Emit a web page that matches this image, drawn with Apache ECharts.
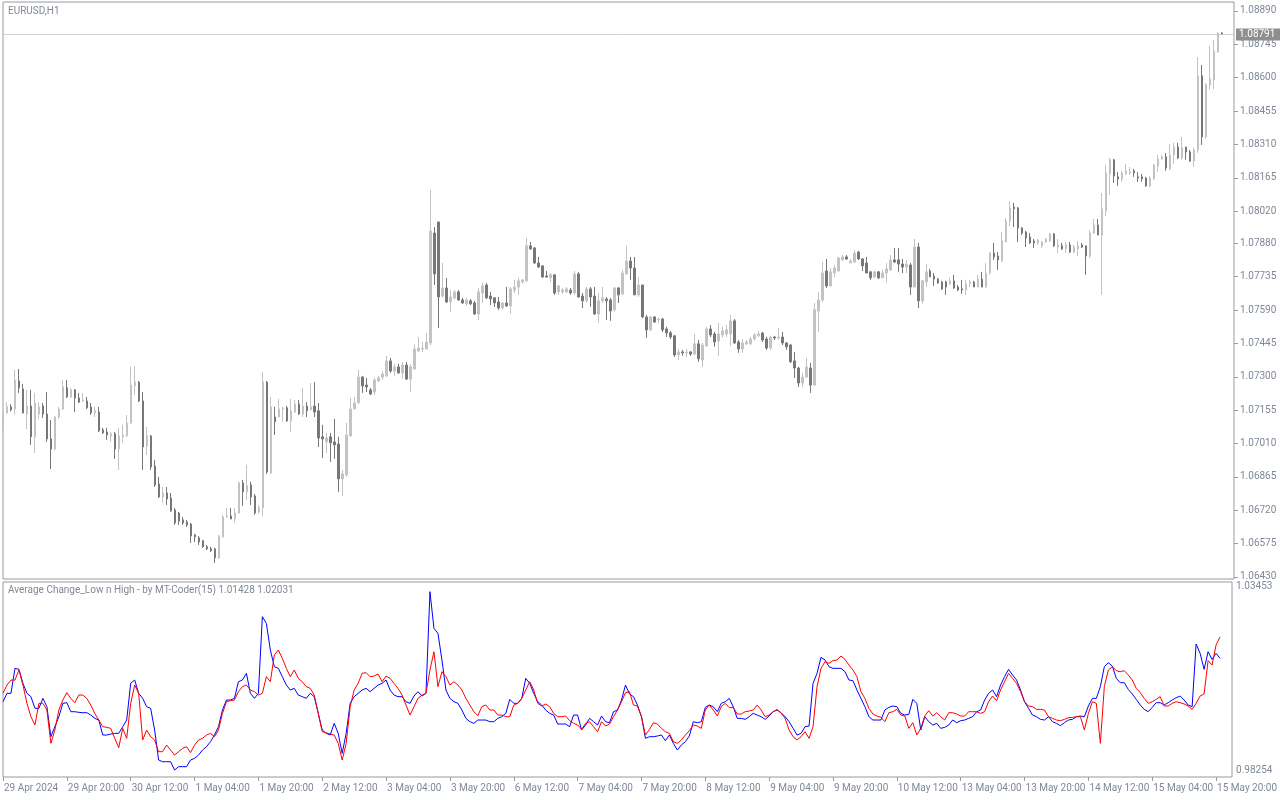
<!DOCTYPE html>
<html>
<head>
<meta charset="utf-8">
<script src="https://cdn.jsdelivr.net/npm/echarts@6/dist/echarts.min.js"></script>
<style>
html,body{margin:0;padding:0;background:#fff;}
#chart{width:1280px;height:800px;}
</style>
</head>
<body>
<div id="chart"></div>
<script>
// ---- EURUSD H1 candles (29 Apr 2024 04:00 .. 15 May 2024 21:00) ----
const opens = [1.07069,1.07143,1.07169,1.07160,1.07282,1.07247,1.07138,1.07173,1.07039,1.07138,1.07173,1.07138,1.07030,1.06986,1.07125,1.07160,1.07252,1.07212,1.07243,1.07208,1.07195,1.07195,1.07169,1.07143,1.07147,1.07069,1.07060,1.07043,1.07052,1.06986,1.07039,1.07043,1.07099,1.07260,1.07277,1.07195,1.06999,1.07043,1.06912,1.06834,1.06778,1.06795,1.06773,1.06721,1.06708,1.06678,1.06669,1.06660,1.06613,1.06600,1.06587,1.06561,1.06552,1.06552,1.06513,1.06604,1.06691,1.06695,1.06682,1.06708,1.06839,1.06800,1.06830,1.06782,1.06713,1.06730,1.07277,1.06882,1.07125,1.07125,1.07160,1.07165,1.07108,1.07147,1.07182,1.07138,1.07173,1.07156,1.07173,1.07152,1.07039,1.07017,1.07039,1.07017,1.07008,1.06856,1.06873,1.07043,1.07160,1.07186,1.07299,1.07264,1.07243,1.07234,1.07282,1.07299,1.07304,1.07369,1.07325,1.07343,1.07317,1.07351,1.07290,1.07334,1.07412,1.07421,1.07421,1.07447,1.07925,1.07973,1.07651,1.07686,1.07625,1.07643,1.07669,1.07634,1.07617,1.07630,1.07621,1.07573,1.07664,1.07699,1.07651,1.07643,1.07625,1.07599,1.07621,1.07608,1.07677,1.07690,1.07712,1.07717,1.07869,1.07860,1.07795,1.07782,1.07738,1.07730,1.07743,1.07669,1.07669,1.07669,1.07677,1.07664,1.07747,1.07651,1.07630,1.07682,1.07651,1.07573,1.07630,1.07638,1.07634,1.07591,1.07686,1.07660,1.07747,1.07803,1.07773,1.07656,1.07699,1.07560,1.07504,1.07560,1.07547,1.07551,1.07508,1.07491,1.07478,1.07395,1.07408,1.07404,1.07408,1.07399,1.07443,1.07373,1.07434,1.07508,1.07486,1.07456,1.07482,1.07486,1.07486,1.07543,1.07451,1.07421,1.07443,1.07443,1.07464,1.07478,1.07490,1.07464,1.07425,1.07473,1.07469,1.07473,1.07447,1.07438,1.07369,1.07338,1.07273,1.07299,1.07338,1.07264,1.07586,1.07634,1.07760,1.07695,1.07751,1.07760,1.07808,1.07821,1.07795,1.07799,1.07842,1.07812,1.07795,1.07756,1.07734,1.07756,1.07730,1.07751,1.07764,1.07808,1.07808,1.07790,1.07777,1.07786,1.07690,1.07864,1.07630,1.07712,1.07760,1.07738,1.07725,1.07712,1.07712,1.07704,1.07717,1.07690,1.07682,1.07677,1.07704,1.07712,1.07690,1.07725,1.07690,1.07751,1.07838,1.07825,1.07803,1.07886,1.07977,1.08038,1.08034,1.07947,1.07929,1.07908,1.07890,1.07882,1.07869,1.07886,1.07890,1.07921,1.07864,1.07869,1.07856,1.07873,1.07842,1.07856,1.07873,1.07869,1.07825,1.07925,1.07960,1.07916,1.08021,1.08182,1.08243,1.08169,1.08160,1.08182,1.08186,1.08195,1.08169,1.08169,1.08164,1.08130,1.08160,1.08216,1.08247,1.08256,1.08203,1.08264,1.08299,1.08251,1.08299,1.08277,1.08238,1.08286,1.08608,1.08343,1.08568,1.08590,1.08712,1.08794];
const closes = [1.07134,1.07169,1.07156,1.07286,1.07252,1.07143,1.07173,1.07039,1.07186,1.07169,1.07138,1.07030,1.06986,1.07125,1.07160,1.07256,1.07212,1.07243,1.07208,1.07190,1.07199,1.07165,1.07143,1.07152,1.07065,1.07056,1.07047,1.07052,1.06986,1.07043,1.07047,1.07099,1.07264,1.07277,1.07195,1.06995,1.07043,1.06908,1.06830,1.06778,1.06795,1.06769,1.06717,1.06665,1.06673,1.06665,1.06656,1.06608,1.06604,1.06582,1.06561,1.06552,1.06543,1.06513,1.06608,1.06691,1.06695,1.06682,1.06708,1.06839,1.06800,1.06826,1.06778,1.06708,1.06730,1.07277,1.06886,1.07169,1.07104,1.07160,1.07165,1.07108,1.07152,1.07182,1.07138,1.07173,1.07152,1.07169,1.07147,1.07034,1.07030,1.07034,1.07013,1.07004,1.06856,1.06878,1.07047,1.07160,1.07186,1.07299,1.07260,1.07256,1.07225,1.07286,1.07295,1.07312,1.07369,1.07325,1.07343,1.07317,1.07351,1.07290,1.07343,1.07421,1.07425,1.07425,1.07451,1.07934,1.07747,1.07647,1.07686,1.07625,1.07647,1.07669,1.07634,1.07621,1.07634,1.07617,1.07573,1.07669,1.07695,1.07643,1.07638,1.07621,1.07599,1.07621,1.07608,1.07682,1.07690,1.07717,1.07721,1.07869,1.07856,1.07795,1.07777,1.07734,1.07734,1.07743,1.07664,1.07695,1.07677,1.07682,1.07664,1.07747,1.07647,1.07630,1.07682,1.07647,1.07573,1.07630,1.07643,1.07630,1.07586,1.07686,1.07656,1.07751,1.07803,1.07773,1.07656,1.07699,1.07560,1.07504,1.07560,1.07538,1.07551,1.07504,1.07491,1.07473,1.07395,1.07408,1.07404,1.07408,1.07399,1.07443,1.07378,1.07438,1.07508,1.07482,1.07451,1.07486,1.07499,1.07504,1.07543,1.07447,1.07421,1.07447,1.07451,1.07464,1.07482,1.07486,1.07460,1.07425,1.07473,1.07469,1.07473,1.07447,1.07430,1.07365,1.07338,1.07273,1.07299,1.07343,1.07264,1.07591,1.07634,1.07751,1.07695,1.07756,1.07773,1.07816,1.07821,1.07812,1.07803,1.07838,1.07812,1.07782,1.07751,1.07730,1.07756,1.07730,1.07751,1.07769,1.07808,1.07799,1.07790,1.07777,1.07790,1.07690,1.07864,1.07630,1.07717,1.07756,1.07734,1.07725,1.07708,1.07682,1.07690,1.07717,1.07686,1.07677,1.07677,1.07704,1.07712,1.07690,1.07725,1.07690,1.07751,1.07838,1.07821,1.07808,1.07890,1.07977,1.08034,1.08030,1.07947,1.07925,1.07903,1.07882,1.07882,1.07895,1.07886,1.07899,1.07921,1.07869,1.07873,1.07856,1.07873,1.07842,1.07864,1.07869,1.07864,1.07825,1.07925,1.07960,1.07916,1.08030,1.08186,1.08243,1.08173,1.08160,1.08186,1.08195,1.08190,1.08186,1.08164,1.08160,1.08130,1.08164,1.08221,1.08247,1.08256,1.08208,1.08264,1.08299,1.08251,1.08295,1.08277,1.08238,1.08286,1.08608,1.08343,1.08568,1.08595,1.08716,1.08794,1.08791];
const lows = [1.07065,1.07140,1.07150,1.07134,1.07230,1.07140,1.07073,1.07004,1.06969,1.07117,1.07121,1.07017,1.06899,1.06982,1.07117,1.07156,1.07208,1.07208,1.07147,1.07186,1.07190,1.07160,1.07134,1.07125,1.07060,1.07052,1.07026,1.07017,1.06943,1.06895,1.07013,1.07039,1.07095,1.07221,1.07190,1.06895,1.06960,1.06895,1.06821,1.06773,1.06752,1.06743,1.06713,1.06656,1.06656,1.06656,1.06647,1.06578,1.06582,1.06569,1.06556,1.06547,1.06539,1.06491,1.06508,1.06600,1.06687,1.06682,1.06665,1.06704,1.06739,1.06765,1.06743,1.06700,1.06704,1.06695,1.06878,1.06878,1.07047,1.07125,1.07104,1.07104,1.07060,1.07143,1.07134,1.07125,1.07125,1.07156,1.07125,1.06995,1.06947,1.06969,1.06930,1.06943,1.06800,1.06782,1.06865,1.07039,1.07160,1.07186,1.07230,1.07234,1.07221,1.07221,1.07277,1.07286,1.07299,1.07317,1.07304,1.07312,1.07291,1.07286,1.07234,1.07330,1.07408,1.07408,1.07417,1.07438,1.07699,1.07512,1.07643,1.07621,1.07582,1.07634,1.07630,1.07617,1.07608,1.07612,1.07569,1.07547,1.07621,1.07638,1.07612,1.07604,1.07591,1.07591,1.07604,1.07573,1.07664,1.07656,1.07704,1.07712,1.07851,1.07790,1.07773,1.07730,1.07730,1.07712,1.07656,1.07656,1.07660,1.07664,1.07656,1.07656,1.07643,1.07599,1.07621,1.07604,1.07569,1.07534,1.07621,1.07547,1.07543,1.07582,1.07621,1.07656,1.07743,1.07721,1.07656,1.07647,1.07556,1.07469,1.07499,1.07534,1.07534,1.07495,1.07473,1.07464,1.07386,1.07373,1.07391,1.07386,1.07391,1.07395,1.07365,1.07343,1.07430,1.07473,1.07430,1.07391,1.07469,1.07473,1.07434,1.07443,1.07404,1.07404,1.07438,1.07438,1.07456,1.07473,1.07451,1.07417,1.07417,1.07460,1.07460,1.07438,1.07417,1.07360,1.07295,1.07256,1.07256,1.07295,1.07230,1.07260,1.07495,1.07625,1.07686,1.07690,1.07734,1.07756,1.07803,1.07808,1.07795,1.07795,1.07808,1.07760,1.07751,1.07721,1.07730,1.07725,1.07730,1.07708,1.07760,1.07795,1.07756,1.07751,1.07751,1.07656,1.07690,1.07599,1.07617,1.07690,1.07734,1.07695,1.07704,1.07677,1.07656,1.07699,1.07682,1.07673,1.07660,1.07656,1.07690,1.07690,1.07690,1.07690,1.07686,1.07743,1.07808,1.07764,1.07799,1.07886,1.07955,1.07951,1.07886,1.07916,1.07864,1.07877,1.07860,1.07873,1.07860,1.07882,1.07886,1.07864,1.07838,1.07851,1.07838,1.07838,1.07838,1.07825,1.07860,1.07743,1.07816,1.07921,1.07916,1.07656,1.07999,1.08090,1.08143,1.08130,1.08147,1.08177,1.08177,1.08169,1.08147,1.08147,1.08125,1.08125,1.08156,1.08190,1.08243,1.08195,1.08199,1.08225,1.08247,1.08243,1.08243,1.08234,1.08212,1.08273,1.08308,1.08334,1.08547,1.08551,1.08708,1.08788];
const highs = [1.07152,1.07190,1.07180,1.07330,1.07334,1.07269,1.07243,1.07243,1.07230,1.07190,1.07186,1.07234,1.07112,1.07130,1.07169,1.07286,1.07286,1.07252,1.07247,1.07230,1.07230,1.07212,1.07186,1.07169,1.07169,1.07078,1.07078,1.07060,1.07060,1.07078,1.07091,1.07134,1.07343,1.07347,1.07282,1.07234,1.07082,1.07047,1.06939,1.06865,1.06821,1.06821,1.06795,1.06730,1.06713,1.06691,1.06678,1.06665,1.06617,1.06608,1.06591,1.06569,1.06561,1.06556,1.06613,1.06700,1.06730,1.06730,1.06730,1.06843,1.06852,1.06917,1.06843,1.06791,1.06743,1.07321,1.07282,1.07212,1.07169,1.07204,1.07169,1.07173,1.07204,1.07199,1.07199,1.07252,1.07190,1.07273,1.07277,1.07186,1.07091,1.07056,1.07056,1.07117,1.07039,1.06895,1.07099,1.07208,1.07212,1.07330,1.07304,1.07295,1.07252,1.07295,1.07304,1.07325,1.07391,1.07382,1.07356,1.07356,1.07364,1.07364,1.07356,1.07439,1.07473,1.07451,1.07490,1.08112,1.07951,1.07973,1.07795,1.07730,1.07677,1.07677,1.07677,1.07643,1.07643,1.07638,1.07630,1.07686,1.07708,1.07708,1.07669,1.07647,1.07647,1.07625,1.07690,1.07690,1.07721,1.07730,1.07725,1.07903,1.07886,1.07864,1.07821,1.07786,1.07760,1.07751,1.07743,1.07699,1.07686,1.07690,1.07686,1.07760,1.07756,1.07664,1.07690,1.07690,1.07690,1.07664,1.07690,1.07647,1.07643,1.07690,1.07690,1.07764,1.07869,1.07821,1.07821,1.07734,1.07699,1.07569,1.07564,1.07564,1.07556,1.07556,1.07517,1.07499,1.07482,1.07421,1.07417,1.07421,1.07412,1.07486,1.07460,1.07447,1.07517,1.07525,1.07495,1.07534,1.07517,1.07525,1.07569,1.07551,1.07460,1.07464,1.07460,1.07473,1.07490,1.07499,1.07495,1.07473,1.07478,1.07478,1.07512,1.07495,1.07451,1.07443,1.07408,1.07343,1.07317,1.07382,1.07360,1.07621,1.07669,1.07799,1.07812,1.07773,1.07786,1.07821,1.07829,1.07829,1.07812,1.07851,1.07847,1.07816,1.07821,1.07760,1.07760,1.07760,1.07764,1.07795,1.07829,1.07860,1.07860,1.07812,1.07808,1.07795,1.07899,1.07882,1.07721,1.07790,1.07769,1.07751,1.07730,1.07717,1.07717,1.07730,1.07743,1.07699,1.07721,1.07721,1.07721,1.07717,1.07743,1.07756,1.07795,1.07842,1.07882,1.07842,1.07929,1.07990,1.08064,1.08056,1.08038,1.07951,1.07934,1.07925,1.07899,1.07899,1.07890,1.07903,1.07925,1.07925,1.07899,1.07882,1.07886,1.07886,1.07873,1.07890,1.07882,1.07869,1.07938,1.07986,1.07986,1.08099,1.08221,1.08251,1.08247,1.08190,1.08195,1.08225,1.08212,1.08203,1.08190,1.08182,1.08169,1.08173,1.08225,1.08264,1.08264,1.08273,1.08312,1.08317,1.08317,1.08343,1.08299,1.08286,1.08295,1.08690,1.08655,1.08577,1.08738,1.08764,1.08798,1.08798];

// ---- Indicator: Average Change_Low n High (15) ----
const changeLow = [1.00202,1.00438,1.00438,1.01144,1.01116,1.00720,1.00438,1.00343,1.00014,1.00014,1.00296,1.00061,0.99213,0.99496,0.99778,1.00155,1.00174,0.99919,0.99919,0.99901,0.99891,0.99891,0.99825,0.99731,0.99684,0.99260,0.99260,0.99288,0.99307,0.99307,0.99496,0.99684,1.00720,1.00814,1.00438,1.00296,1.00061,1.00014,0.99401,0.98554,0.98506,0.98506,0.98506,0.98271,0.98365,0.98365,0.98365,0.98554,0.98601,0.98695,0.98836,0.98930,0.99072,0.99260,0.99496,0.99967,1.00249,1.00249,1.00296,1.00767,1.00814,1.01003,1.00438,1.00296,1.00438,1.02604,1.02416,1.01662,1.01191,1.01144,1.00909,1.00673,1.00532,1.00579,1.00390,1.00343,1.00296,1.00438,1.00343,0.99872,0.99401,0.99307,0.99260,0.99590,0.99307,0.98742,0.99307,1.00155,1.00343,1.00438,1.00532,1.00579,1.00485,1.00579,1.00673,1.00720,1.00814,1.00532,1.00390,1.00343,1.00343,1.00202,1.00155,1.00362,1.00485,1.00362,1.00438,1.03311,1.02274,1.02133,1.01380,1.00532,1.00296,1.00202,1.00155,0.99967,0.99731,0.99637,0.99590,0.99684,0.99684,0.99684,0.99637,0.99637,0.99731,0.99778,0.99872,1.00268,1.00155,1.00155,1.00296,1.00861,1.00720,1.00438,1.00202,1.00108,0.99967,0.99872,0.99825,0.99571,0.99571,0.99571,0.99496,0.99825,0.99825,0.99401,0.99543,0.99731,0.99637,0.99543,0.99797,0.99637,0.99609,0.99919,0.99967,1.00249,1.00673,1.00419,1.00343,1.00108,0.99778,0.99166,0.99213,0.99213,0.99232,0.99260,0.99100,0.99260,0.99025,0.98836,0.98977,0.99072,0.99232,0.99637,0.99609,0.99637,1.00042,1.00108,1.00061,0.99919,1.00155,1.00202,1.00296,1.00061,0.99731,0.99731,0.99703,0.99778,0.99872,0.99825,0.99778,0.99703,0.99797,0.99919,0.99967,0.99891,0.99778,0.99637,0.99448,0.99260,0.99307,0.99496,0.99514,1.00720,1.01003,1.01455,1.01380,1.01191,1.01144,1.01144,1.01144,1.01050,1.00814,1.00796,1.00532,1.00296,1.00061,0.99778,0.99684,0.99684,0.99684,0.99967,1.00042,1.00080,1.00061,0.99872,0.99825,0.99844,1.00268,1.00155,0.99401,0.99778,0.99637,0.99543,0.99590,0.99448,0.99477,0.99543,0.99684,0.99609,0.99665,0.99684,0.99731,0.99778,0.99919,0.99967,1.00249,1.00438,1.00532,1.00343,1.00673,1.00909,1.01116,1.00956,1.00814,1.00532,1.00202,1.00014,0.99825,0.99778,0.99703,0.99684,0.99778,0.99637,0.99590,0.99524,0.99609,0.99684,0.99703,0.99778,0.99797,0.99778,1.00080,1.00296,1.00296,1.00626,1.01191,1.01304,1.01210,1.00861,1.00739,1.00739,1.00551,1.00419,1.00268,1.00108,0.99985,0.99919,1.00042,1.00174,1.00174,1.00108,1.00174,1.00249,1.00315,1.00362,1.00249,1.00108,1.00061,1.01832,1.01568,1.01116,1.01615,1.01398,1.01568,1.01428];
const changeHigh = [1.00438,1.00673,1.00814,1.00814,1.01097,1.00673,1.00155,0.99778,0.99543,1.00155,1.00155,0.99967,0.99025,0.99401,0.99967,1.00249,1.00456,1.00296,1.00174,1.00390,1.00390,1.00296,1.00108,0.99872,0.99684,0.99496,0.99477,0.99448,0.99166,0.98902,0.99448,0.99166,1.00155,1.00673,1.00438,0.99119,0.99401,0.99213,0.99119,0.98789,0.98789,0.98977,0.98836,0.98695,0.98789,0.98883,0.98930,0.98761,0.98977,0.99119,0.99166,0.99260,0.99307,0.99213,0.99401,0.99872,1.00202,1.00230,1.00249,1.00485,1.00626,1.00673,1.00532,1.00485,1.00390,1.00438,1.00909,1.00767,1.01521,1.01662,1.01427,1.01144,1.00909,1.01097,1.00861,1.00767,1.00626,1.00579,1.00390,0.99872,0.99354,0.99326,0.99288,0.99260,0.99025,0.98554,0.99025,1.00061,1.00532,1.00720,1.01003,1.01022,1.00909,1.00927,1.00984,1.00767,1.00927,1.00861,1.00720,1.00579,1.00390,1.00108,0.99825,1.00061,1.00296,1.00390,1.00438,1.01097,1.01615,1.00626,1.01050,1.00909,1.00673,1.00767,1.00673,1.00532,1.00296,1.00108,0.99919,0.99806,1.00061,1.00108,0.99967,0.99967,0.99825,0.99825,0.99778,0.99778,1.00108,1.00155,1.00296,1.00532,1.00767,1.00532,1.00155,1.00080,1.00136,1.00061,0.99872,0.99778,0.99778,0.99797,0.99665,0.99590,0.99543,0.99420,0.99590,0.99637,0.99496,0.99354,0.99637,0.99514,0.99571,0.99778,0.99967,1.00202,1.00456,1.00485,1.00108,1.00080,0.99778,0.99260,0.99420,0.99609,0.99571,0.99448,0.99354,0.99307,0.99072,0.99025,0.99119,0.99260,0.99383,0.99543,0.99514,0.99448,0.99967,1.00108,0.99967,0.99797,1.00061,1.00155,1.00033,1.00042,0.99854,0.99854,0.99919,0.99938,0.99967,1.00108,0.99967,0.99778,0.99825,0.99919,0.99985,0.99872,0.99731,0.99401,0.99213,0.99119,0.99213,0.99354,0.99166,0.99496,1.00626,1.01144,1.01332,1.01285,1.01361,1.01380,1.01493,1.01398,1.01238,1.01097,1.00909,1.00485,1.00296,1.00014,0.99854,0.99797,0.99759,0.99637,0.99891,0.99919,0.99985,0.99825,0.99797,0.99448,0.99609,0.99260,0.99448,0.99797,0.99948,0.99797,0.99891,0.99778,0.99684,0.99891,0.99891,0.99854,0.99797,0.99797,0.99919,0.99919,0.99919,0.99872,0.99919,1.00202,1.00362,1.00230,1.00532,1.00767,1.01003,1.00861,1.00720,1.00485,1.00202,1.00080,1.00061,0.99985,0.99985,0.99967,0.99778,0.99731,0.99684,0.99665,0.99703,0.99750,0.99759,0.99778,0.99778,0.99401,0.99872,1.00202,1.00155,0.99025,1.00626,1.01097,1.01191,1.01078,1.01050,1.01078,1.00956,1.00814,1.00579,1.00456,1.00296,1.00155,1.00202,1.00268,1.00343,1.00080,1.00080,1.00155,1.00202,1.00174,1.00136,1.00080,0.99985,1.00155,1.00362,1.00419,1.01361,1.01238,1.01804,1.02031];

// ---- Tick labels ----
const priceTicks = [1.08890,1.08745,1.08600,1.08455,1.08310,1.08165,1.08020,1.07880,1.07735,1.07590,1.07445,1.07300,1.07155,1.07010,1.06865,1.06720,1.06575,1.06430];
const indicatorTicks = [1.03453,0.98254];
const dateTicks = ['29 Apr 2024','29 Apr 20:00','30 Apr 12:00','1 May 04:00','1 May 20:00','2 May 12:00','3 May 04:00','3 May 20:00','6 May 12:00','7 May 04:00','7 May 20:00','8 May 12:00','9 May 04:00','9 May 20:00','10 May 12:00','13 May 04:00','13 May 20:00','14 May 12:00','15 May 04:00','15 May 20:00'];
const dateTickStep = 16;

const symbolTitle = 'EURUSD,H1';
const indicatorName = 'Average Change_Low n High - by MT-Coder(15)';

// ---- build ----
const SLOTS = opens.length + 3; // right-side shift area
const cats = [];
for (let i = 0; i < SLOTS; i++) cats.push(String(i));
const candleData = opens.map((o, i) => [o, closes[i], lows[i], highs[i]]);
const lastClose = closes[closes.length - 1];

const labelColor = '#7f8898';
const frameColor = '#9a9a9a';
const FONT = 'Roboto';
const GRID_LEFT = 3, GRID_RIGHT = 1234;

const isDateTick = (idx) => idx % dateTickStep === 0 && idx / dateTickStep < dateTicks.length;

const chart = echarts.init(document.getElementById('chart'), null, {renderer: 'canvas'});
chart.setOption({
  animation: false,
  backgroundColor: '#ffffff',
  textStyle: {fontFamily: FONT},
  title: [
    {text: symbolTitle, left: 8, top: 6, padding: 0, textStyle: {fontSize: 10, fontWeight: 'normal', color: labelColor, fontFamily: FONT}},
    {text: indicatorName + ' ' + changeLow[changeLow.length - 1].toFixed(5) + ' ' + changeHigh[changeHigh.length - 1].toFixed(5),
     left: 8, top: 585, padding: 0, textStyle: {fontSize: 10, fontWeight: 'normal', color: labelColor, fontFamily: FONT}}
  ],
  grid: [
    {left: GRID_LEFT, top: 2, width: GRID_RIGHT - GRID_LEFT, height: 577, show: true, borderColor: frameColor, borderWidth: 1, backgroundColor: 'transparent'},
    {left: GRID_LEFT, top: 582, width: GRID_RIGHT - GRID_LEFT, height: 195, show: true, borderColor: frameColor, borderWidth: 1, backgroundColor: 'transparent'}
  ],
  xAxis: [
    {type: 'category', gridIndex: 0, data: cats, boundaryGap: false,
     axisLine: {show: false}, axisTick: {show: false}, axisLabel: {show: false}, splitLine: {show: false}},
    {type: 'category', gridIndex: 1, data: cats, boundaryGap: false, position: 'bottom',
     axisLine: {show: false},
     axisTick: {show: true, length: 4, interval: (idx) => isDateTick(idx), lineStyle: {color: frameColor}},
     axisLabel: {show: true, interval: (idx) => isDateTick(idx),
       formatter: (v, idx) => dateTicks[Math.round(Number(v) / dateTickStep)] || '',
       align: 'left', margin: 6, fontSize: 10, color: labelColor, fontFamily: FONT, padding: [0, 0, 0, 1]},
     splitLine: {show: false}}
  ],
  yAxis: [
    {type: 'value', gridIndex: 0, position: 'right', min: 1.06421, max: 1.08929, scale: true,
     axisLine: {show: false},
     axisTick: {show: true, length: 4, inside: false, customValues: priceTicks, lineStyle: {color: frameColor}},
     axisLabel: {show: true, customValues: priceTicks, formatter: (v) => Number(v).toFixed(5), margin: 6, fontSize: 10, color: labelColor, fontFamily: FONT},
     splitLine: {show: false}},
    {type: 'value', gridIndex: 1, position: 'right', min: 0.98074, max: 1.03584, scale: true,
     axisLine: {show: false}, axisTick: {show: false},
     axisLabel: {show: true, customValues: indicatorTicks, formatter: (v) => Number(v).toFixed(5), margin: 4, fontSize: 10, color: labelColor, fontFamily: FONT},
     splitLine: {show: false}}
  ],
  series: [
    {type: 'candlestick', name: 'EURUSD', xAxisIndex: 0, yAxisIndex: 0, data: candleData, barWidth: 2,
     itemStyle: {color: '#c3c3c3', color0: '#777777', borderColor: '#c3c3c3', borderColor0: '#777777', borderWidth: 1}},
    {type: 'line', name: 'Average Change Low', xAxisIndex: 1, yAxisIndex: 1, data: changeLow,
     showSymbol: false, symbol: 'none', lineStyle: {color: '#0000ff', width: 1}, itemStyle: {color: '#0000ff'}},
    {type: 'line', name: 'Average Change High', xAxisIndex: 1, yAxisIndex: 1, data: changeHigh,
     showSymbol: false, symbol: 'none', lineStyle: {color: '#ff0000', width: 1}, itemStyle: {color: '#ff0000'}}
  ]
});

// current price line + price tag, positioned through the price axis scale
const py = Math.round(chart.convertToPixel({yAxisIndex: 0}, lastClose)) + 0.5;
chart.setOption({
  graphic: [
    {type: 'line', z: 1, silent: true, shape: {x1: GRID_LEFT, y1: py, x2: GRID_RIGHT, y2: py},
     style: {stroke: '#d2d2d2', lineWidth: 1}},
    {type: 'rect', z: 10, silent: true, shape: {x: GRID_RIGHT + 2, y: py - 6, width: 44, height: 12},
     style: {fill: '#8e8e8e'}},
    {type: 'text', z: 11, silent: true, x: GRID_RIGHT + 5, y: py,
     style: {text: lastClose.toFixed(5), fill: '#ffffff', font: '10px Roboto', verticalAlign: 'middle', textAlign: 'left'}}
  ]
});
</script>
</body>
</html>
